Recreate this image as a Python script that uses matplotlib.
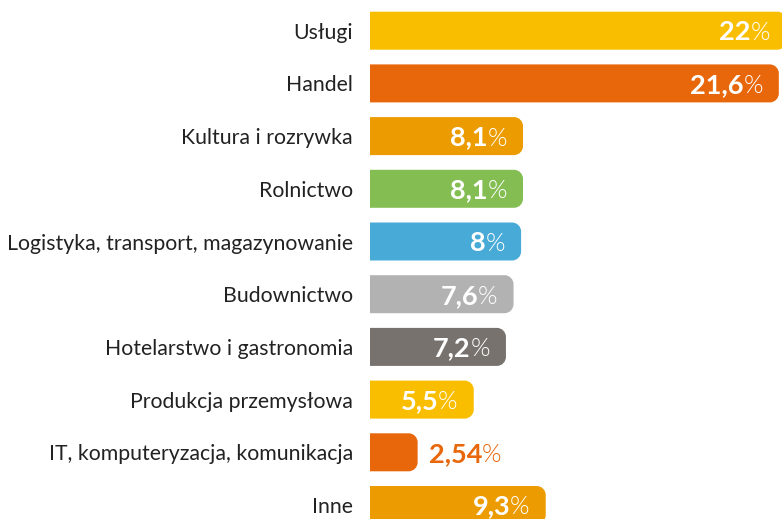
import matplotlib
matplotlib.use("Agg")
import matplotlib.pyplot as plt
from matplotlib.patches import PathPatch
from matplotlib.path import Path

# data
categories = ["Usługi", "Handel", "Kultura i rozrywka", "Rolnictwo",
              "Logistyka, transport, magazynowanie", "Budownictwo",
              "Hotelarstwo i gastronomia", "Produkcja przemysłowa",
              "IT, komputeryzacja, komunikacja", "Inne"]
values = [22, 21.6, 8.1, 8.1, 8.0, 7.6, 7.2, 5.5, 2.54, 9.3]
value_labels = ["22", "21,6", "8,1", "8,1", "8", "7,6", "7,2", "5,5", "2,54", "9,3"]
colors = ["#F9BE00", "#E8670A", "#EC9C00", "#84BE53", "#48AAD7",
          "#B2B2B2", "#77726D", "#F9BE00", "#E8670A", "#EC9C00"]

plt.rcParams['font.family'] = ['Lato', 'DejaVu Sans']

W, H = 782, 519
fig = plt.figure(figsize=(W / 100, H / 100), dpi=100)
ax_left = 369.5 / W
ax = fig.add_axes([ax_left, 0, 1 - ax_left, 1])

px_per_unit_x = 18.95
px_per_unit_y = 52.7
xmax = (W - 369.5) / px_per_unit_x
ax.set_xlim(0, xmax)
ax.set_ylim(9 + 14 / px_per_unit_y, -30.7 / px_per_unit_y)

bar_h = 38 / px_per_unit_y
rx = 9 / px_per_unit_x
ry = 9 / px_per_unit_y
k = 0.5523  # bezier circle constant


def right_rounded_bar(v, yc):
    y0, y1 = yc - bar_h / 2, yc + bar_h / 2
    verts = [(0, y0), (v - rx, y0),
             (v - rx + k * rx, y0), (v, y0 + ry - k * ry), (v, y0 + ry),
             (v, y1 - ry),
             (v, y1 - ry + k * ry), (v - rx + k * rx, y1), (v - rx, y1),
             (0, y1), (0, y0)]
    codes = [Path.MOVETO, Path.LINETO,
             Path.CURVE4, Path.CURVE4, Path.CURVE4,
             Path.LINETO,
             Path.CURVE4, Path.CURVE4, Path.CURVE4,
             Path.LINETO, Path.CLOSEPOLY]
    return Path(verts, codes)


for i, (v, c) in enumerate(zip(values, colors)):
    ax.add_patch(PathPatch(right_rounded_bar(v, i), fc=c, ec="none", clip_on=True))

# value labels
for i, (v, s, c) in enumerate(zip(values, value_labels, colors)):
    yb = i + 9.5 / px_per_unit_y
    if v > 4:
        pct = ax.annotate("%", xy=(v, yb), xytext=(-16, 0), textcoords="offset pixels",
                          ha="right", va="baseline", color="white",
                          fontsize=18, fontweight=300, annotation_clip=False)
        ax.annotate(s, xy=(0, yb), xycoords=(pct, "data"), ha="right", va="baseline",
                    color="white", fontsize=19.5, fontweight="bold", annotation_clip=False)
    else:
        num = ax.annotate(s, xy=(v, yb), xytext=(11, 0), textcoords="offset pixels",
                          ha="left", va="baseline", color=c,
                          fontsize=19.5, fontweight="bold", annotation_clip=False)
        ax.annotate("%", xy=(1, yb), xycoords=(num, "data"), ha="left", va="baseline",
                    color=c, fontsize=18, fontweight=300, annotation_clip=False)

ax.set_yticks(range(len(categories)))
ax.set_yticklabels(categories, fontsize=15.3, color="#222222")
ax.tick_params(axis="y", length=0, pad=12)
ax.set_xticks([])
for sp in ax.spines.values():
    sp.set_visible(False)

fig.savefig("out.png", dpi=100)
